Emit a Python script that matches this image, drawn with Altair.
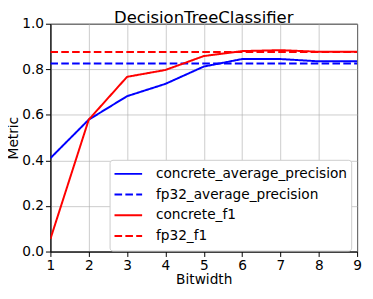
import altair as alt
import pandas as pd

bitwidths = [1, 2, 3, 4, 5, 6, 7, 8, 9]
concrete_average_precision = [0.41, 0.579, 0.682, 0.736, 0.812, 0.845, 0.845, 0.835, 0.835]
fp32_average_precision = [0.825, 0.825, 0.825, 0.825, 0.825, 0.825, 0.825, 0.825, 0.825]
concrete_f1 = [0.055, 0.579, 0.767, 0.797, 0.858, 0.880, 0.884, 0.877, 0.877]
fp32_f1 = [0.876, 0.876, 0.876, 0.876, 0.876, 0.876, 0.876, 0.876, 0.876]

series_names = ["concrete_average_precision", "fp32_average_precision", "concrete_f1", "fp32_f1"]
series_values = [concrete_average_precision, fp32_average_precision, concrete_f1, fp32_f1]
colors = ["#0000ff", "#0000ff", "#ff0000", "#ff0000"]
dashes = [[1, 0], [7.7, 3.3], [1, 0], [7.7, 3.3]]

rows = []
for order, (name, vals) in enumerate(zip(series_names, series_values)):
    for b, v in zip(bitwidths, vals):
        rows.append({"Bitwidth": b, "Metric": v, "series": name, "order": order})
df = pd.DataFrame(rows)

FONT = "DejaVu Sans"

legend = alt.Legend(
    title=None,
    orient="none",
    legendX=60,
    legendY=138,
    symbolType="stroke",
    symbolSize=784,
    symbolStrokeWidth=2,
    labelFontSize=13.9,
    labelFont=FONT,
    labelColor="black",
    labelLimit=0,
    fillColor="white",
    strokeColor="#cccccc",
    cornerRadius=3,
    padding=4,
    rowPadding=0,
    clipHeight=20.5,
    labelOffset=13,
)

chart = alt.Chart(df).mark_line(strokeWidth=2, clip=True).encode(
    x=alt.X("Bitwidth:Q", scale=alt.Scale(domain=[1, 9], nice=False, zero=False),
            axis=alt.Axis(values=bitwidths, format="d", title="Bitwidth")),
    y=alt.Y("Metric:Q", scale=alt.Scale(domain=[0, 1], nice=False),
            axis=alt.Axis(values=[0, 0.2, 0.4, 0.6, 0.8, 1.0], format=".1f", title="Metric")),
    color=alt.Color("series:N", scale=alt.Scale(domain=series_names, range=colors), legend=legend),
    strokeDash=alt.StrokeDash("series:N", scale=alt.Scale(domain=series_names, range=dashes), legend=legend),
    order=alt.Order("order:Q"),
).properties(
    width=311,
    height=231,
    title=alt.Title("DecisionTreeClassifier", font=FONT, fontSize=16.7, fontWeight="normal",
                    color="black", offset=2, dy=12, frame="group"),
    autosize=alt.AutoSizeParams(type="none"),
    padding={"left": 43, "top": 14, "right": 8, "bottom": 34},
).configure_view(
    stroke="black", strokeWidth=1
).configure_axis(
    labelFont=FONT, labelFontSize=13.9, labelColor="black",
    titleFont=FONT, titleFontSize=13.9, titleFontWeight="normal", titleColor="black",
    domainColor="black", tickColor="black", tickSize=5,
    gridColor="#b0b0b0", gridWidth=0.8, gridOpacity=0.8,
    labelFlush=False,
).configure_axisX(
    labelPadding=2, titlePadding=1,
).configure_axisY(
    labelPadding=2, titlePadding=1,
)

chart.save("out.html", embed_options={"renderer": "svg", "actions": False})
